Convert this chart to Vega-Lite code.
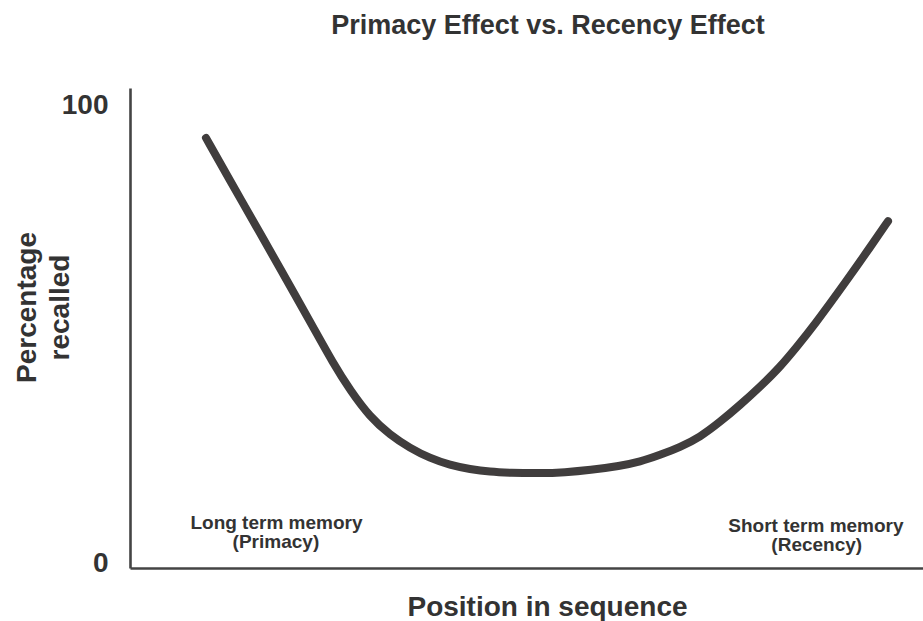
{
  "$schema": "https://vega.github.io/schema/vega-lite/v6.json",
  "autosize": "none",
  "width": 793,
  "height": 480,
  "padding": {"left": 130, "top": 88, "right": 0, "bottom": 53},
  "background": "white",
  "config": {
    "view": {"stroke": null},
    "font": "Liberation Sans"
  },
  "title": {
    "text": "Primacy Effect vs. Recency Effect",
    "anchor": "middle",
    "frame": "group",
    "dx": 21.5,
    "offset": 27,
    "baseline": "alphabetic",
    "fontSize": 27,
    "fontWeight": "bold",
    "font": "Liberation Sans",
    "color": "#333333"
  },
  "encoding": {
    "x": {
      "field": "x",
      "type": "quantitative",
      "scale": {"domain": [0, 100], "nice": false, "zero": false},
      "axis": {
        "title": "Position in sequence",
        "values": [],
        "ticks": false,
        "grid": false,
        "labels": false,
        "domainColor": "#444444",
        "domainWidth": 2.6,
        "titleFont": "Liberation Sans",
        "titleFontSize": 28,
        "titleFontWeight": "bold",
        "titleColor": "#333333",
        "titleX": 417,
        "titleY": 47,
        "titleAlign": "center",
        "titleBaseline": "alphabetic"
      }
    },
    "y": {
      "field": "y",
      "type": "quantitative",
      "scale": {"domain": [0, 104.9], "nice": false, "zero": false},
      "axis": {
        "title": ["Percentage", "recalled"],
        "values": [0, 100],
        "ticks": false,
        "grid": false,
        "labelFont": "Liberation Sans",
        "labelFontSize": 28,
        "labelFontWeight": "bold",
        "labelColor": "#333333",
        "labelPadding": 22,
        "labelOffset": -5,
        "domainColor": "#444444",
        "domainWidth": 2.6,
        "titleFont": "Liberation Sans",
        "titleFontSize": 28,
        "titleFontWeight": "bold",
        "titleColor": "#333333",
        "titleAngle": 270,
        "titleX": -95,
        "titleY": 219,
        "titleAlign": "center",
        "titleBaseline": "alphabetic",
        "titleLineHeight": 33
      }
    }
  },
  "layer": [
    {
      "data": {
        "values": [
          {"x": 9.58, "y": 94.0},
          {"x": 12.61, "y": 84.7},
          {"x": 16.0, "y": 74.4},
          {"x": 18.92, "y": 65.5},
          {"x": 23.08, "y": 52.7},
          {"x": 25.6, "y": 44.8},
          {"x": 27.74, "y": 38.9},
          {"x": 30.26, "y": 33.0},
          {"x": 32.79, "y": 29.1},
          {"x": 35.31, "y": 26.2},
          {"x": 37.83, "y": 24.0},
          {"x": 40.35, "y": 22.5},
          {"x": 42.88, "y": 21.6},
          {"x": 45.4, "y": 21.0},
          {"x": 47.92, "y": 20.8},
          {"x": 51.7, "y": 20.7},
          {"x": 54.85, "y": 20.9},
          {"x": 58.0, "y": 21.4},
          {"x": 61.79, "y": 22.3},
          {"x": 64.31, "y": 23.2},
          {"x": 66.83, "y": 24.7},
          {"x": 69.36, "y": 26.4},
          {"x": 71.88, "y": 28.6},
          {"x": 74.4, "y": 31.9},
          {"x": 76.92, "y": 35.6},
          {"x": 79.45, "y": 39.6},
          {"x": 81.97, "y": 43.9},
          {"x": 84.11, "y": 48.4},
          {"x": 86.13, "y": 52.7},
          {"x": 90.42, "y": 62.9},
          {"x": 93.69, "y": 71.0},
          {"x": 95.59, "y": 75.8}
        ]
      },
      "mark": {
        "type": "line",
        "interpolate": "basis",
        "color": "#403d3d",
        "strokeWidth": 8,
        "strokeCap": "round",
        "strokeJoin": "round"
      }
    },
    {
      "data": {
        "values": [
          {"x": 18.47, "y": 8.63, "t": "Long term memory"},
          {"x": 18.4, "y": 4.48, "t": "(Primacy)"},
          {"x": 86.5, "y": 7.76, "t": "Short term memory"},
          {"x": 86.6, "y": 3.61, "t": "(Recency)"}
        ]
      },
      "mark": {
        "type": "text",
        "align": "center",
        "baseline": "alphabetic",
        "font": "Liberation Sans",
        "fontSize": 19,
        "fontWeight": "bold",
        "color": "#333333"
      },
      "encoding": {
        "text": {"field": "t", "type": "nominal"}
      }
    }
  ]
}
